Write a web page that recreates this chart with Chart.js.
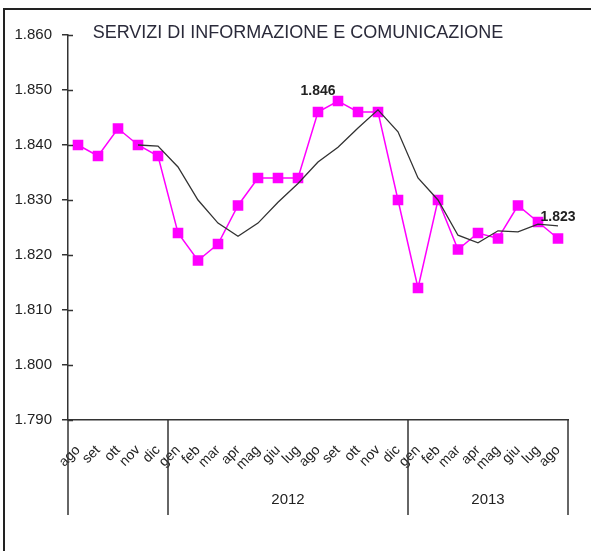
<!DOCTYPE html>
<html>
<head>
<meta charset="utf-8">
<script src="https://cdn.jsdelivr.net/npm/chart.js@4/dist/chart.umd.min.js"></script>
<style>
  html, body { margin: 0; padding: 0; background: #fff; }
  #wrap { width: 591px; height: 551px; }
</style>
</head>
<body>
<div id="wrap"><canvas id="c" width="591" height="551"></canvas></div>
<script>
// dati (migliaia)
const mesi = ["ago","set","ott","nov","dic",
  "gen","feb","mar","apr","mag","giu","lug","ago","set","ott","nov","dic",
  "gen","feb","mar","apr","mag","giu","lug","ago"];
const anni = ["2012", "2013"];
const anniDa = [5, 17];   // indice primo mese dell'anno
const anniA = [16, 24];   // indice ultimo mese
const occupati = [1840, 1838, 1843, 1840, 1838,
  1824, 1819, 1822, 1829, 1834, 1834, 1834, 1846, 1848, 1846, 1846, 1830,
  1814, 1830, 1821, 1824, 1823, 1829, 1826, 1823];
const trend = [null, null, null, 1840, 1839.8,
  1836, 1830, 1825.8, 1823.4, 1825.8, 1829.6, 1833, 1836.9, 1839.6, 1843.1, 1846.4, 1842.4,
  1834, 1830, 1823.6, 1822.2, 1824.4, 1824.2, 1825.6, 1825.3];
const etichette = [12, 24]; // punti con valore scritto
const yTicks = [1790, 1800, 1810, 1820, 1830, 1840, 1850, 1860];

const titolo = "SERVIZI DI INFORMAZIONE E COMUNICAZIONE";
const fmt = (v) => String(Math.round(v)).replace(/\B(?=(\d{3})+(?!\d))/g, ".");
const INK = "#222";

const extra = {
  id: "extra",
  afterDraw(chart) {
    const { ctx, scales: { x, y } } = chart;
    const band = (x.right - x.left) / mesi.length;
    const basso = 515;
    ctx.save();
    // cornice
    ctx.strokeStyle = "#222"; ctx.lineWidth = 2;
    ctx.beginPath(); ctx.moveTo(4, 551); ctx.lineTo(4, 9); ctx.lineTo(591, 9); ctx.stroke();
    // tacche interne asse y
    ctx.strokeStyle = "#333"; ctx.lineWidth = 1.5;
    yTicks.forEach(v => {
      const py = Math.round(y.getPixelForValue(v)) + 0.5;
      ctx.beginPath(); ctx.moveTo(x.left, py); ctx.lineTo(x.left + 5, py); ctx.stroke();
    });
    // separatori anni
    const sep = [0, anniDa[0], anniDa[1], mesi.length];
    sep.forEach(i => {
      const px = Math.round(x.getPixelForValue(i) - band / 2);
      ctx.beginPath(); ctx.moveTo(px, y.bottom); ctx.lineTo(px, basso); ctx.stroke();
    });
    // anni
    ctx.fillStyle = INK; ctx.font = "15px 'Liberation Sans', Arial, sans-serif";
    ctx.textAlign = "center"; ctx.textBaseline = "middle";
    anni.forEach((a, k) => {
      const x0 = x.getPixelForValue(anniDa[k]) - band / 2;
      const x1 = x.getPixelForValue(anniA[k]) + band / 2;
      ctx.fillText(a, (x0 + x1) / 2, 500);
    });
    // titolo
    ctx.font = "18px 'Liberation Sans', Arial, sans-serif";
    ctx.fillStyle = "#2a2a3a";
    ctx.fillText(titolo, 298, 33);
    // etichette dati
    ctx.font = "bold 14px 'Liberation Sans', Arial, sans-serif";
    ctx.fillStyle = "#222";
    const meta = chart.getDatasetMeta(0);
    etichette.forEach(i => {
      const p = meta.data[i];
      ctx.fillText(fmt(occupati[i]), p.x, p.y - 21);
    });
    ctx.restore();
  }
};

new Chart(document.getElementById("c"), {
  type: "line",
  data: {
    labels: mesi,
    datasets: [
      {
        data: occupati,
        borderColor: "#ff00ff", backgroundColor: "#ff00ff",
        borderWidth: 1.5, pointStyle: "rect", pointRadius: 7.5, pointBorderWidth: 0,
        tension: 0, order: 1
      },
      {
        data: trend,
        borderColor: "#333", borderWidth: 1.3, pointRadius: 0,
        tension: 0, spanGaps: false, order: 0
      }
    ]
  },
  options: {
    responsive: false,
    animation: false,
    layout: { padding: { top: 35, right: 23, bottom: 0, left: 0 } },
    plugins: { legend: { display: false }, tooltip: { enabled: false } },
    scales: {
      x: {
        type: "category",
        offset: true,
        grid: { display: false },
        border: { display: true, color: "#333", width: 1.5 },
        ticks: {
          color: INK, font: { family: "'Liberation Sans', Arial, sans-serif", size: 14 },
          minRotation: 45, maxRotation: 45, autoSkip: false, padding: 14
        },
        afterFit: s => { s.height = 131; }
      },
      y: {
        min: 1790, max: 1860,
        afterBuildTicks: s => { s.ticks = yTicks.map(v => ({ value: v })); },
        grid: { drawOnChartArea: false, tickLength: 6, color: "#333", lineWidth: 1.5 },
        border: { display: true, color: "#333", width: 1.5 },
        ticks: {
          color: INK, font: { family: "'Liberation Sans', Arial, sans-serif", size: 15 },
          padding: 10, callback: v => fmt(v)
        },
        afterFit: s => { s.width = 68; }
      }
    }
  },
  plugins: [extra]
});
</script>
</body>
</html>
